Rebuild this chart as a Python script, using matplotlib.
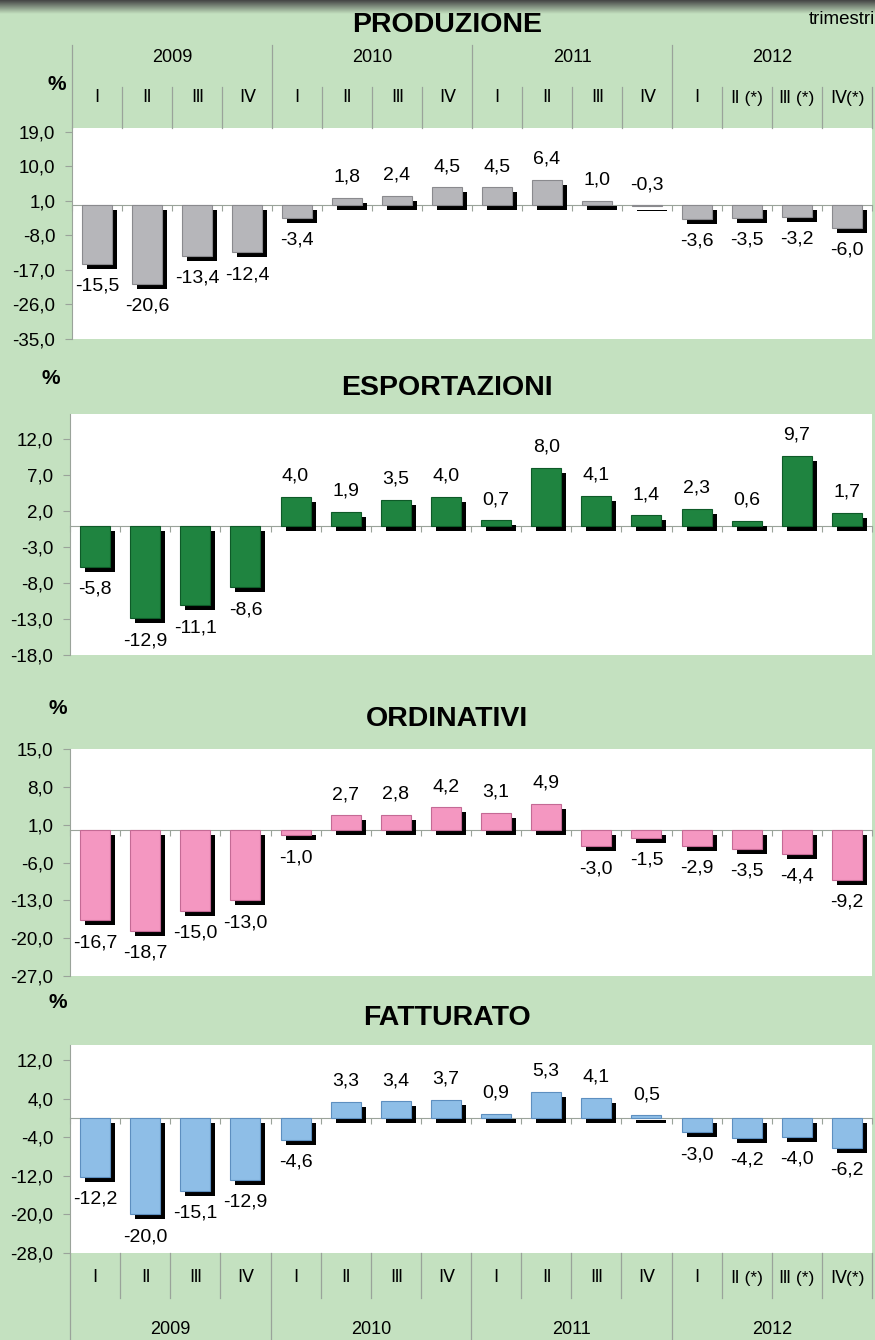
import matplotlib
matplotlib.use("Agg")
import numpy as np
import matplotlib.pyplot as plt
import matplotlib.patheffects as pe
from matplotlib.colors import LinearSegmentedColormap
from matplotlib.transforms import blended_transform_factory

plt.rcParams['font.family'] = ['Liberation Sans', 'DejaVu Sans']

# dati trimestrali, variazioni %
years = ['2009', '2010', '2011', '2012']
quarters = ['Ⅰ', 'Ⅱ', 'Ⅲ', 'Ⅳ'] * 3 + ['Ⅰ', 'Ⅱ (*)', 'Ⅲ (*)', 'Ⅳ(*)']

produzione = [-15.5, -20.6, -13.4, -12.4, -3.4, 1.8, 2.4, 4.5,
              4.5, 6.4, 1.0, -0.3, -3.6, -3.5, -3.2, -6.0]
esportazioni = [-5.8, -12.9, -11.1, -8.6, 4.0, 1.9, 3.5, 4.0,
                0.7, 8.0, 4.1, 1.4, 2.3, 0.6, 9.7, 1.7]
ordinativi = [-16.7, -18.7, -15.0, -13.0, -1.0, 2.7, 2.8, 4.2,
              3.1, 4.9, -3.0, -1.5, -2.9, -3.5, -4.4, -9.2]
fatturato = [-12.2, -20.0, -15.1, -12.9, -4.6, 3.3, 3.4, 3.7,
             0.9, 5.3, 4.1, 0.5, -3.0, -4.2, -4.0, -6.2]

prod_ticks = [-35, -26, -17, -8, 1, 10, 19]
esp_ticks = [-18, -13, -8, -3, 2, 7, 12]
ord_ticks = [-27, -20, -13, -6, 1, 8, 15]
fat_ticks = [-28, -20, -12, -4, 4, 12]

BG = '#c4e1c0'
LINE = '#9aa39a'
W, H = 875, 1340

fig = plt.figure(figsize=(W / 100, H / 100), dpi=100)
fig.patch.set_facecolor(BG)


def px_axes(left, top, right, bottom):
    return fig.add_axes([left / W, 1 - bottom / H, (right - left) / W, (bottom - top) / H])


def fmt(v):
    return ('%.1f' % v).replace('.', ',')


panels = [
    ('PRODUZIONE', produzione, '#b6b6ba', '#8a8a8e', (-35, 20), prod_ticks,
     (72, 128, 872, 339), 25, (57, 84)),
    ('ESPORTAZIONI', esportazioni, '#1f8440', '#0e5a28', (-18, 15.5), esp_ticks,
     (70, 414, 872, 655), 388, (51, 378)),
    ('ORDINATIVI', ordinativi, '#f497c1', '#c46a95', (-27, 15), ord_ticks,
     (70, 749, 872, 976), 719, (58, 708)),
    ('FATTURATO', fatturato, '#8ebee7', '#5d8fc0', (-28, 15.1), fat_ticks,
     (70, 1045, 872, 1253), 1018, (58, 1003)),
]

axes = []
x = np.arange(len(quarters))
for title, values, color, edge, ylim, ticks, box, title_y, pct in panels:
    ax = px_axes(*box)
    axes.append(ax)
    ax.set_facecolor('white')
    bars = ax.bar(x, values, width=0.6, color=color, edgecolor=edge, linewidth=0.8, zorder=3)
    for b in bars:
        b.set_path_effects([pe.SimplePatchShadow(offset=(3.6, -3.6), shadow_rgbFace='black', alpha=1.0),
                            pe.Normal()])
    for xi, v in zip(x, values):
        off = 15 if v > -0.5 else -16
        ax.annotate(fmt(v), (xi, v), xytext=(0, off), textcoords='offset points',
                    ha='center', va='center', fontsize=14, zorder=5)
    ax.set_xlim(-0.5, 15.5)
    ax.set_ylim(*ylim)
    ax.spines['top'].set_visible(False)
    ax.spines['right'].set_visible(False)
    ax.spines['left'].set_color(LINE)
    ax.spines['bottom'].set_color(LINE)
    ax.spines['bottom'].set_position(('data', 0))
    ax.set_xticks(np.arange(-0.5, 16, 1))
    ax.tick_params(axis='x', length=4, color=LINE, labelbottom=False)
    ax.set_yticks(ticks)
    ax.set_yticklabels([fmt(t) for t in ticks], fontsize=13.5)
    ax.tick_params(axis='y', length=5, color=LINE, pad=7)

    fig.text(447 / W, 1 - title_y / H, title, ha='center', va='center',
             fontsize=20.5, fontweight='bold')
    fig.text(pct[0] / W, 1 - pct[1] / H, '%', ha='center', va='center',
             fontsize=15, fontweight='bold')


def category_band(ax, y_year, y_quarter, quarter_span, year_span):
    tr = blended_transform_factory(ax.transData, fig.transFigure)
    for i, q in enumerate(quarters):
        ax.text(i, 1 - y_quarter / H, q, transform=tr, ha='center', va='center', fontsize=12.5)
    for j, yr in enumerate(years):
        ax.text(4 * j + 1.5, 1 - y_year / H, yr, transform=tr, ha='center', va='center', fontsize=13)
    for b in np.arange(-0.5, 16, 1):
        span = year_span if (b + 0.5) % 4 == 0 and b < 15 else quarter_span
        ax.plot([b, b], [1 - span[0] / H, 1 - span[1] / H], transform=tr,
                color=LINE, lw=0.9, clip_on=False)


# intestazione sopra e sotto
category_band(axes[0], 58, 98, (87, 128), (45, 128))
category_band(axes[3], 1330, 1278, (1253, 1298), (1253, 1340))

fig.text(875 / W, 1 - 19 / H, 'trimestri', ha='right', va='center', fontsize=13.5)

band = fig.add_axes([0, 1 - 14 / H, 1, 14 / H])
grad = np.linspace(0, 1, 50)[:, None]
band.imshow(grad, aspect='auto', cmap=LinearSegmentedColormap.from_list('band', ['#444444', BG]),
            extent=[0, 1, 0, 1])
band.axis('off')

fig.savefig('out.png', dpi=100, facecolor=BG)
